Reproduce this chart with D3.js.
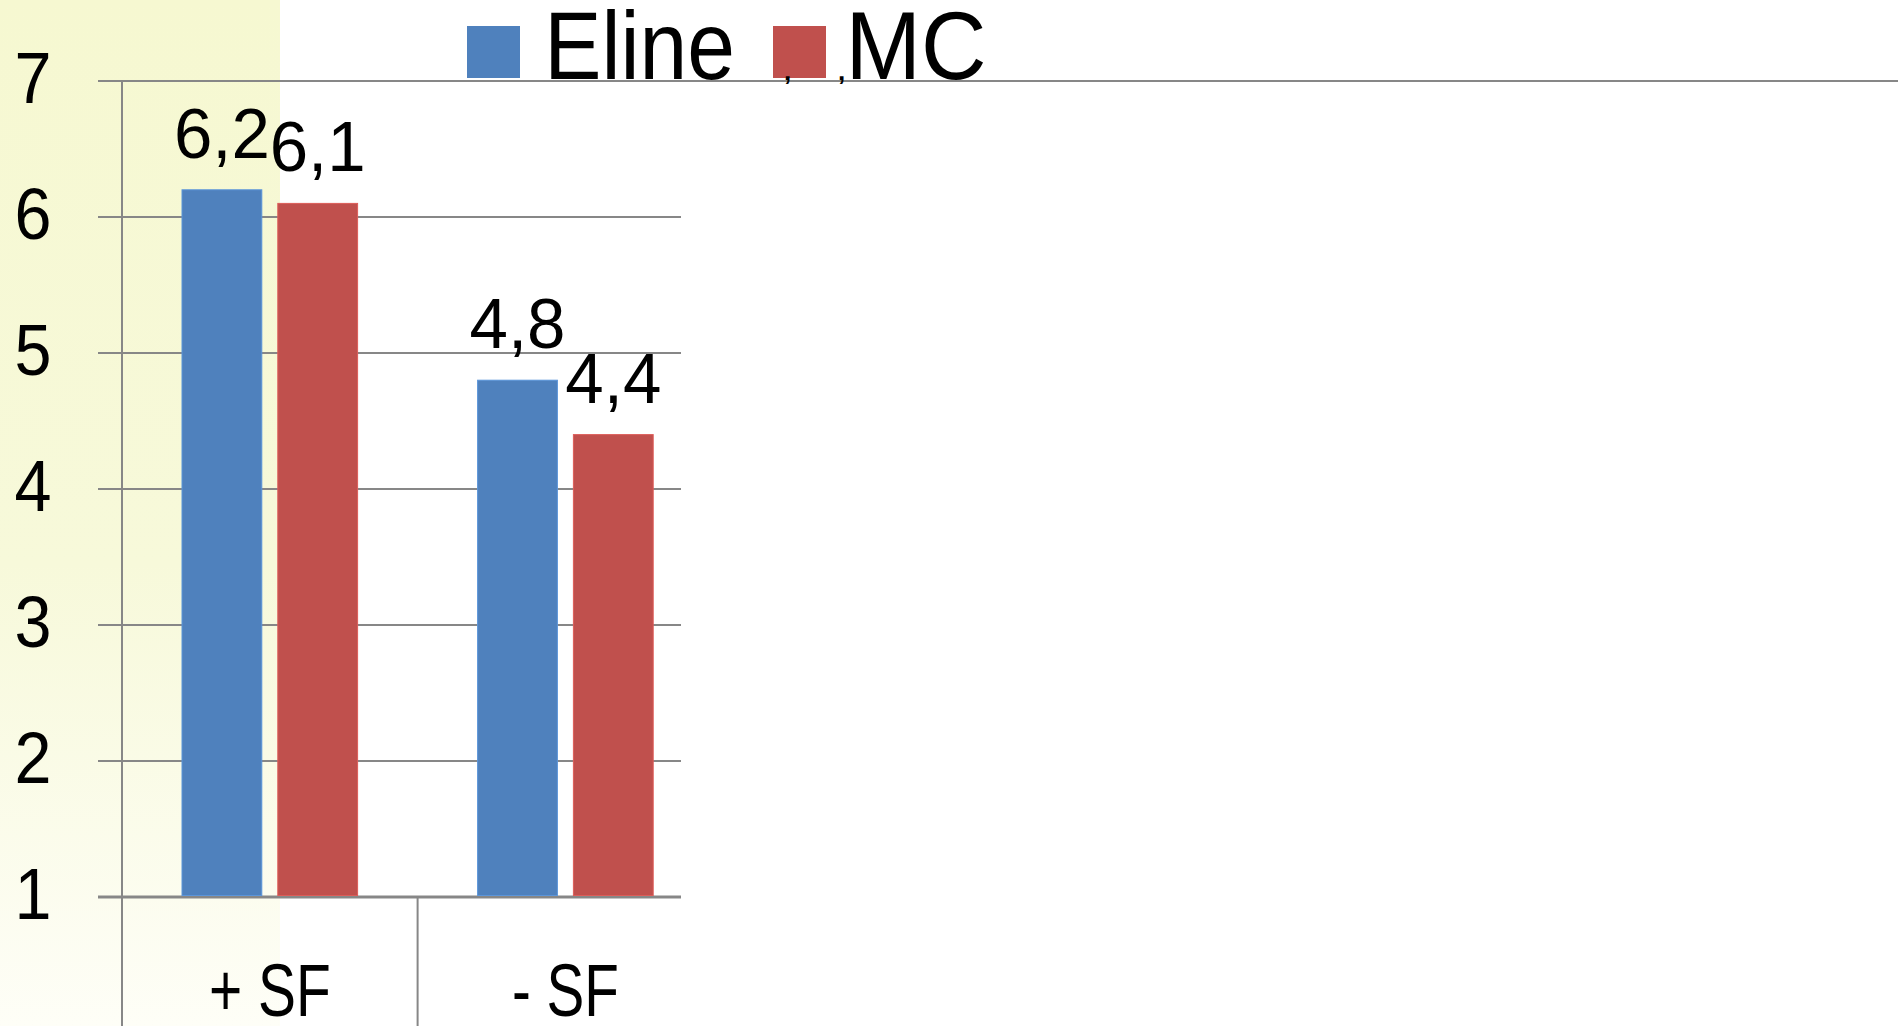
<!DOCTYPE html>
<html>
<head>
<meta charset="utf-8">
<script src="https://cdn.jsdelivr.net/npm/d3@7"></script>
<style>
  html, body { margin: 0; padding: 0; background: #ffffff; }
  svg { display: block; }
  text { font-family: "Liberation Sans", Arial, sans-serif; fill: #000; }
</style>
</head>
<body>
<svg id="chart" width="1898" height="1026"></svg>
<script>
// ---- data ----
const categories = ["+ SF", "- SF"];
const seriesNames = ["Eline", "MC"];
const elineValues = [6.2, 4.8];
const mcValues = [6.1, 4.4];
const valueLabels = [["6,2", "6,1"], ["4,8", "4,4"]];
const yTicks = [1, 2, 3, 4, 5, 6, 7];
const seriesColors = ["#4f81bd", "#c0504d"];

const W = 1898, H = 1026;
const svg = d3.select("#chart");

// background panel (yellow fade on the left)
const defs = svg.append("defs");
const grad = defs.append("linearGradient").attr("id", "panel").attr("x1", 0).attr("y1", 0).attr("x2", 0).attr("y2", 1);
grad.append("stop").attr("offset", "0%").attr("stop-color", "#f6f8d1");
grad.append("stop").attr("offset", "55%").attr("stop-color", "#f7f9da");
grad.append("stop").attr("offset", "100%").attr("stop-color", "#fefef7");
svg.append("rect").attr("x", 0).attr("y", 0).attr("width", 280).attr("height", H).attr("fill", "url(#panel)");

// scales
const plotLeft = 122, gridRight = 681;
const x0 = d3.scaleBand().domain(categories).range([plotLeft, plotLeft + 2 * 295.6]).padding(0);
const x1 = d3.scaleBand().domain(seriesNames).range([60, 235.6]).paddingInner(0.167).paddingOuter(0);
const y = d3.scaleLinear().domain([1, 7]).range([897, 81]);

const gridColor = "#878787";

// gridlines + ticks
svg.append("g").selectAll("line").data(yTicks).join("line")
  .attr("x1", 98)
  .attr("x2", d => d === 7 ? W : gridRight)
  .attr("y1", d => y(d)).attr("y2", d => y(d))
  .attr("stroke", gridColor)
  .attr("stroke-width", d => d === 1 ? 3 : 2);

// y axis line
svg.append("line").attr("x1", plotLeft).attr("x2", plotLeft).attr("y1", y(7)).attr("y2", H)
  .attr("stroke", gridColor).attr("stroke-width", 2);

// category separators
svg.append("g").selectAll("line").data(categories.slice(1)).join("line")
  .attr("x1", d => x0(d)).attr("x2", d => x0(d))
  .attr("y1", y(1)).attr("y2", H)
  .attr("stroke", gridColor).attr("stroke-width", 2);

// y tick labels
svg.append("g").selectAll("text").data(yTicks).join("text")
  .attr("x", 14.5)
  .attr("y", d => y(d) + 21.5)
  .attr("font-size", 72)
  .attr("textLength", 37)
  .attr("lengthAdjust", "spacingAndGlyphs")
  .text(d => d);

// bars
const rows = categories.map((c, i) => ({
  cat: c,
  vals: [
    { s: seriesNames[0], v: elineValues[i], lab: valueLabels[i][0], color: seriesColors[0] },
    { s: seriesNames[1], v: mcValues[i], lab: valueLabels[i][1], color: seriesColors[1] }
  ]
}));

const groups = svg.append("g").selectAll("g").data(rows).join("g")
  .attr("transform", d => `translate(${x0(d.cat)},0)`);

groups.selectAll("rect").data(d => d.vals).join("rect")
  .attr("x", d => x1(d.s))
  .attr("width", x1.bandwidth())
  .attr("y", d => y(d.v))
  .attr("height", d => y(1) - 1.5 - y(d.v))
  .attr("fill", d => d.color)
  .attr("stroke", d => d3.color(d.color).brighter(0.4))
  .attr("stroke-width", 1);

// data labels
groups.selectAll("text").data(d => d.vals).join("text")
  .attr("x", d => x1(d.s) + x1.bandwidth() / 2 - 48)
  .attr("y", d => y(d.v) - 32)
  .attr("font-size", 71)
  .attr("textLength", 96)
  .attr("lengthAdjust", "spacingAndGlyphs")
  .text(d => d.lab);

// category labels
const catLen = { "+ SF": 121.7, "- SF": 107 };
svg.append("g").selectAll("text").data(categories).join("text")
  .attr("x", d => x0(d) + x0.bandwidth() / 2 - catLen[d] / 2)
  .attr("y", 1015.5)
  .attr("font-size", 75)
  .attr("textLength", d => catLen[d])
  .attr("lengthAdjust", "spacingAndGlyphs")
  .text(d => d);

// legend
const legend = svg.append("g");
const legendItems = [
  { name: seriesNames[0], color: seriesColors[0], rx: 467, tx: 544.2, tl: 190.8 },
  { name: seriesNames[1], color: seriesColors[1], rx: 773, tx: 845.5, tl: 141 }
];
legend.selectAll("rect").data(legendItems).join("rect")
  .attr("x", d => d.rx).attr("y", 26).attr("width", 53).attr("height", 52)
  .attr("fill", d => d.color);
legend.selectAll("text.lt").data(legendItems).join("text")
  .attr("class", "lt")
  .attr("x", d => d.tx).attr("y", 79)
  .attr("font-size", 96)
  .attr("textLength", d => d.tl)
  .attr("lengthAdjust", "spacingAndGlyphs")
  .text(d => d.name);
// small separator fragments below the legend
legend.selectAll("text.sep").data([784, 838]).join("text")
  .attr("class", "sep")
  .attr("x", d => d).attr("y", 80)
  .attr("font-size", 26)
  .attr("font-weight", "bold")
  .text(",");
</script>
</body>
</html>
